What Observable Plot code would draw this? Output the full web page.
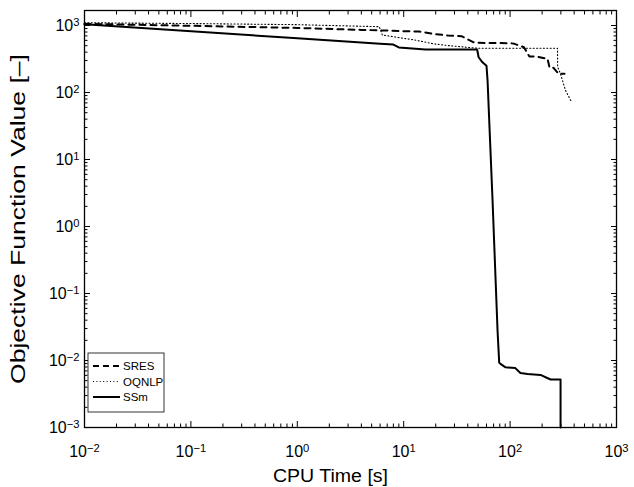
<!DOCTYPE html>
<html><head><meta charset="utf-8">
<script src="https://cdn.jsdelivr.net/npm/d3@7"></script>
<script src="https://cdn.jsdelivr.net/npm/@observablehq/plot@0.6"></script>
<style>
body{margin:0;background:#fff;}
#chart{width:634px;height:487px;}
</style>
</head><body><div id="chart"></div>
<script>
// ---- data ----
const seriesNames = ["SRES", "OQNLP", "SSm"];
const sresTime  = [0.01, 0.1, 1, 4, 7, 10, 14, 19, 26, 35, 45, 47, 100, 110, 135, 152, 177, 225, 235, 256, 285, 325];
const sresValue = [1060, 990, 920, 860, 841, 822, 815, 751, 710, 693, 564, 552, 545, 533, 474, 344, 344, 318, 234, 234, 190, 190];
const oqnlpTime  = [0.01, 0.1, 1, 5.9, 6.3, 12.4, 19.1, 25.8, 49.4, 279, 280, 298, 311, 332, 375];
const oqnlpValue = [1100, 1070, 1030, 960, 720, 612, 533, 503, 458, 458, 240, 190, 151, 107, 74];
const ssmTime  = [0.01, 1, 6, 8, 9, 16, 49, 50.6, 55, 60, 61.4, 68.4, 76.2, 79, 81.3, 90.6, 112, 125, 146, 193, 240, 298, 298];
const ssmValue = [1040, 644, 533, 520, 470, 438, 438, 336, 282, 251, 151, 2.44, 0.028, 0.0093, 0.0089, 0.0079, 0.0077, 0.0065, 0.0063, 0.0061, 0.0052, 0.0052, 0.001];
const xMajorTicks = [1e-2, 1e-1, 1e0, 1e1, 1e2, 1e3];
const yMajorTicks = [1e-3, 1e-2, 1e-1, 1e0, 1e1, 1e2, 1e3];
const xTitle = "CPU Time [s]";
const yTitle = "Objective Function Value [–]";

const toRows = (name, t, v) => t.map((d, i) => ({series: name, time: d, value: v[i]}));
const sres = toRows("SRES", sresTime, sresValue);
const oqnlp = toRows("OQNLP", oqnlpTime, oqnlpValue);
const ssm = toRows("SSm", ssmTime, ssmValue);

const minorOf = (majors) => {
  const out = [];
  for (let i = 0; i < majors.length - 1; i++) for (let k = 2; k <= 9; k++) out.push(majors[i] * k);
  return out;
};
const xMinorTicks = minorOf(xMajorTicks);
const yMinorTicks = minorOf(yMajorTicks);
const fmt = d => "10^" + Math.round(Math.log10(d));
const none = () => "";
const font = "'Liberation Sans', Arial, Helvetica, sans-serif";

const chart = Plot.plot({
  width: 634, height: 487,
  marginLeft: 84, marginRight: 18, marginTop: 10, marginBottom: 60,
  style: {fontFamily: font, background: "#fff", color: "#000"},
  x: {type: "log", domain: [0.01, 1000]},
  y: {type: "log", domain: [1e-3, 1675]},
  marks: [
    Plot.frame({stroke: "#000", strokeWidth: 1.3}),
    // tick labels
    Plot.axisX(xMajorTicks, {anchor: "bottom", tickSize: 0, tickPadding: 18, tickFormat: fmt, fontSize: 16, label: null}),
    Plot.axisY(yMajorTicks, {anchor: "left", tickSize: 0, tickPadding: 5, tickFormat: fmt, fontSize: 16, label: null}),
    // inward tick marks on all four sides
    Plot.axisX(xMajorTicks, {anchor: "bottom", tickSize: -6, tickFormat: none, label: null}),
    Plot.axisX(xMinorTicks, {anchor: "bottom", tickSize: -3.5, tickFormat: none, label: null}),
    Plot.axisX(xMajorTicks, {anchor: "top", tickSize: -6, tickFormat: none, label: null}),
    Plot.axisX(xMinorTicks, {anchor: "top", tickSize: -3.5, tickFormat: none, label: null}),
    Plot.axisY(yMajorTicks, {anchor: "left", tickSize: -6, tickFormat: none, label: null}),
    Plot.axisY(yMinorTicks, {anchor: "left", tickSize: -3.5, tickFormat: none, label: null}),
    Plot.axisY(yMajorTicks, {anchor: "right", tickSize: -6, tickFormat: none, label: null}),
    Plot.axisY(yMinorTicks, {anchor: "right", tickSize: -3.5, tickFormat: none, label: null}),
    // series
    Plot.line(oqnlp, {x: "time", y: "value", stroke: "#000", strokeWidth: 1.1, strokeDasharray: "1,2.4"}),
    Plot.line(sres, {x: "time", y: "value", stroke: "#000", strokeWidth: 2, strokeDasharray: "6,5"}),
    Plot.line(ssm, {x: "time", y: "value", stroke: "#000", strokeWidth: 2}),
    // axis titles
    Plot.text([xTitle], {text: d => d, frameAnchor: "bottom", textAnchor: "middle", dx: -20, dy: 49, lineAnchor: "middle", fontSize: 18}),
    Plot.text([yTitle], {text: d => d, frameAnchor: "left", textAnchor: "middle", dx: -66, rotate: -90, lineAnchor: "middle", fontSize: 20})
  ]
});
document.getElementById("chart").appendChild(chart);

// superscript exponents on tick labels; title widths as in the reference
const ns = "http://www.w3.org/2000/svg";
chart.querySelectorAll("text").forEach(t => {
  const s = t.textContent;
  if (s === yTitle) { t.setAttribute("textLength", 330); t.setAttribute("lengthAdjust", "spacingAndGlyphs"); return; }
  if (s === xTitle) { t.setAttribute("textLength", 115); t.setAttribute("lengthAdjust", "spacingAndGlyphs"); return; }
  const m = /^10\^(-?\d+)$/.exec(s);
  if (!m) return;
  const e = m[1].replace("-", "\u2212");
  t.textContent = "";
  const base = document.createElementNS(ns, "tspan");
  base.textContent = "10";
  const sup = document.createElementNS(ns, "tspan");
  sup.setAttribute("dy", "-0.45em");
  sup.setAttribute("font-size", "0.7em");
  sup.textContent = e;
  t.appendChild(base); t.appendChild(sup);
});

// legend box (lower-left inside the plot)
const svg = d3.select(chart);
const lg = svg.append("g").attr("font-family", font).attr("font-size", 11.5).attr("text-anchor", "start");
const lx = 88, ly = 353;
lg.append("rect").attr("x", lx).attr("y", ly).attr("width", 76).attr("height", 59)
  .attr("fill", "#fff").attr("stroke", "#000").attr("stroke-width", 0.8);
const styles = {
  SRES: {w: 2, dash: "6,4"},
  OQNLP: {w: 1.1, dash: "1,2.4"},
  SSm: {w: 2, dash: null}
};
seriesNames.forEach((n, i) => {
  const y = ly + 13 + i * 15.5;
  lg.append("line").attr("x1", lx + 5).attr("x2", lx + 32).attr("y1", y).attr("y2", y)
    .attr("stroke", "#000").attr("stroke-width", styles[n].w)
    .attr("stroke-dasharray", styles[n].dash);
  lg.append("text").attr("x", lx + 35).attr("y", y).attr("dy", "0.35em").text(n);
});
</script>
</body></html>
